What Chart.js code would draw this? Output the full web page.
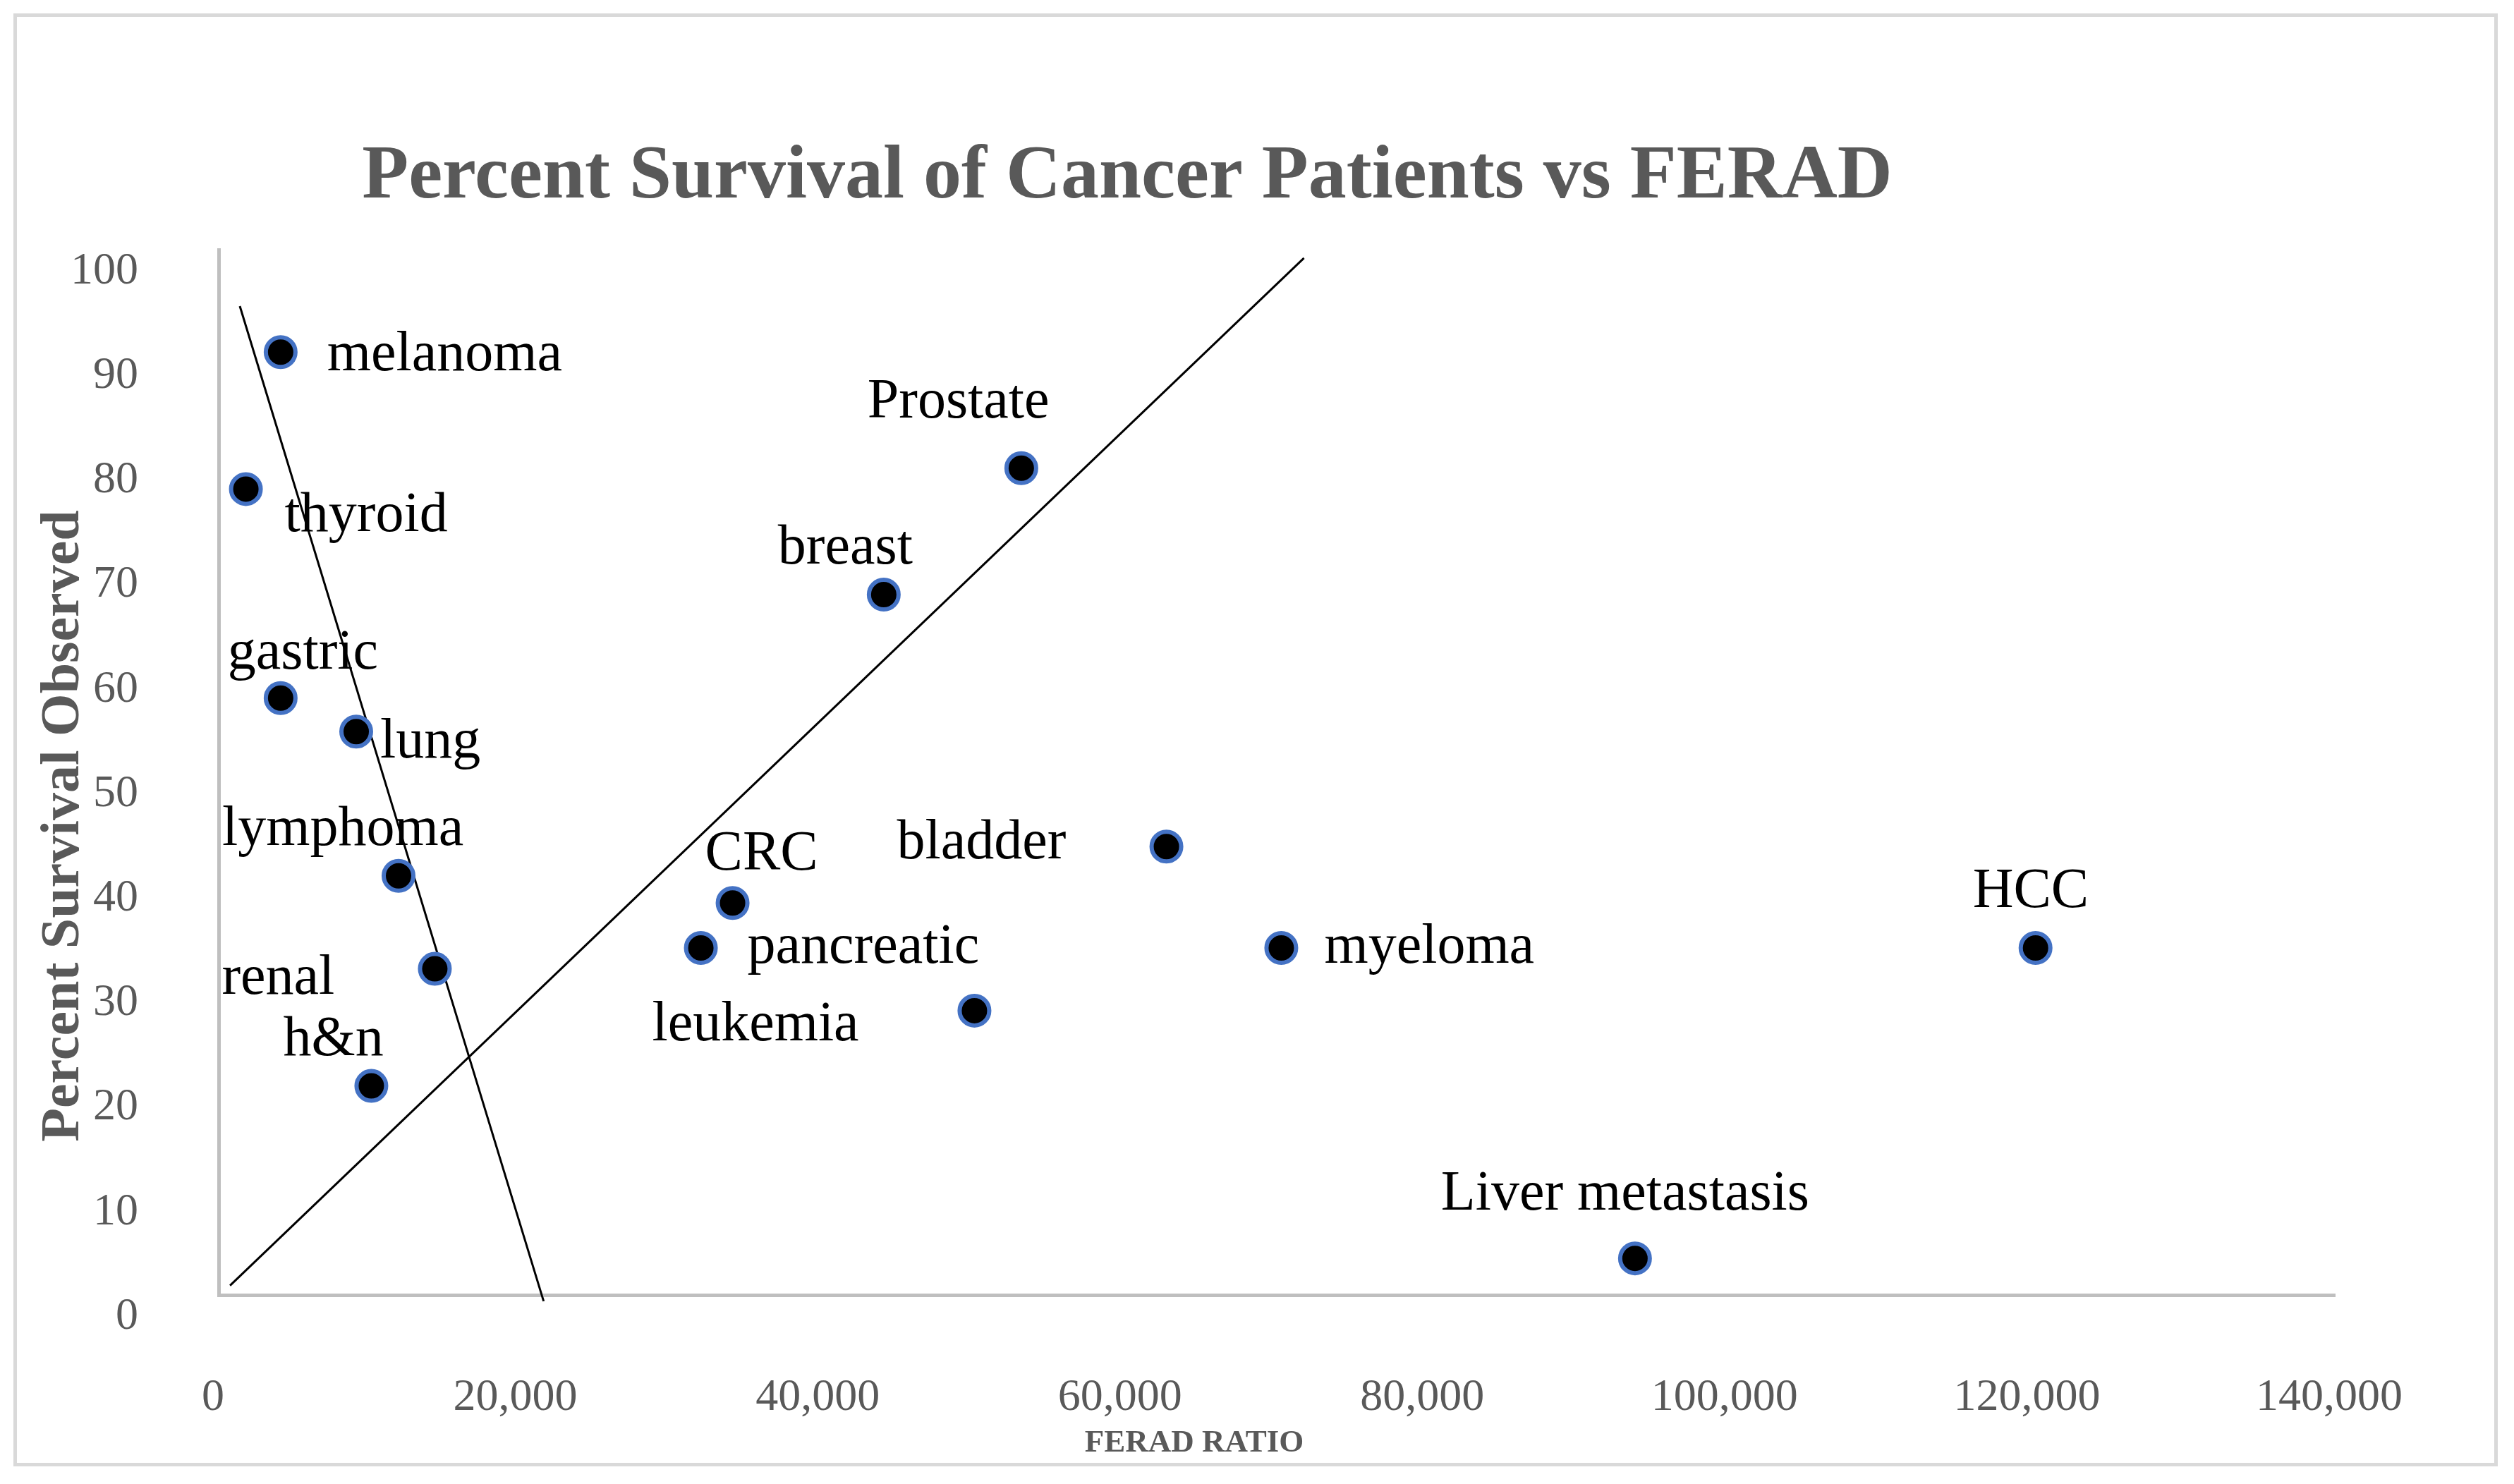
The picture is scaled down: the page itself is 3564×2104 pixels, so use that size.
<!DOCTYPE html>
<html>
<head>
<meta charset="utf-8">
<script src="https://cdn.jsdelivr.net/npm/chart.js@4.4.1/dist/chart.umd.min.js"></script>
<style>
  html, body { margin: 0; padding: 0; background: #fff; }
  #frame { position: absolute; left: 19px; top: 19px; width: 3512px; height: 2050px; border: 5px solid #d9d9d9; }
  #wrap  { position: absolute; left: 0; top: 0; width: 3564px; height: 2104px; }
</style>
</head>
<body>
<div id="frame"></div>
<div id="wrap"><canvas id="chart"></canvas></div>
<script>
// data
const cancerTypes = ['melanoma', 'thyroid', 'gastric', 'lung', 'lymphoma', 'renal', 'h&n',
  'CRC', 'pancreatic', 'breast', 'Prostate', 'leukemia', 'bladder', 'myeloma', 'HCC', 'Liver metastasis'];
const feradRatio  = [4100, 1800, 4100, 9100, 11900, 14300, 10100,
  34000, 31900, 44000, 53100, 50000, 62700, 70300, 120200, 93700];
const survivalPct = [90.2, 77.1, 57.1, 53.9, 40.1, 31.2, 20.0,
  37.5, 33.2, 67.0, 79.1, 27.2, 42.9, 33.2, 33.2, 3.5];

// the two hand drawn trend lines
const fallLineX = [1400, 21500];
const fallLineY = [94.6, -0.6];
const riseLineX = [750, 71800];
const riseLineY = [0.9, 99.2];

const xTicks = [0, 20000, 40000, 60000, 80000, 100000, 120000, 140000];
const yTicks = [0, 10, 20, 30, 40, 50, 60, 70, 80, 90, 100];

const chartTitle = 'Percent Survival of Cancer Patients vs FERAD';
const xTitle = 'FERAD RATIO';
const yTitle = 'Percent Survival Observed';

// label placement next to each point (px, left edge / middle)
const labelOffsets = [
  [66, 5], [55, 39], [-75, -63], [34, 16], [-250, -65], [-302, 14], [-125, -65],
  [-39, -68], [66, 0], [-150, -65], [-218, -93], [-457, 21], [-382, -4], [61, 0], [-89, -79], [-275, -90]
];

const FONT = "'Palatino Linotype', 'Book Antiqua', Palatino, 'Liberation Serif', 'DejaVu Serif', serif";
const GREY = '#595959';

const pointLabels = {
  id: 'pointLabels',
  afterDatasetsDraw(chart) {
    const meta = chart.getDatasetMeta(0);
    const c = chart.ctx;
    c.save();
    c.font = `80px ${FONT}`;
    c.fillStyle = '#000';
    c.textAlign = 'left';
    c.textBaseline = 'middle';
    meta.data.forEach((pt, i) => {
      const [dx, dy] = labelOffsets[i];
      c.fillText(cancerTypes[i], pt.x + dx, pt.y + dy);
    });
    c.restore();
  }
};

const titles = {
  id: 'titles',
  afterDraw(chart) {
    const c = chart.ctx;
    c.save();
    c.fillStyle = GREY;
    c.textAlign = 'center';
    c.textBaseline = 'middle';
    c.font = `bold 108px ${FONT}`;
    c.fillText(chartTitle, 1598, 252);
    c.font = `bold 45px ${FONT}`;
    c.fillText(xTitle, 1693, 2046);
    c.translate(91, 1171);
    c.rotate(-Math.PI / 2);
    c.font = `bold 78px ${FONT}`;
    c.fillText(yTitle, 0, 0);
    c.restore();
  }
};

const ctx = document.getElementById('chart');

new Chart(ctx, {
  type: 'scatter',
  plugins: [pointLabels, titles],
  data: {
    datasets: [
      {
        label: 'Cancer types',
        data: feradRatio.map((x, i) => ({ x, y: survivalPct[i] })),
        backgroundColor: '#000',
        borderColor: '#4472c4',
        borderWidth: 6,
        pointRadius: 21,
        pointHoverRadius: 21
      },
      {
        label: 'fall',
        data: fallLineX.map((x, i) => ({ x, y: fallLineY[i] })),
        showLine: true,
        borderColor: '#000',
        borderWidth: 3,
        pointRadius: 0,
        clip: false
      },
      {
        label: 'rise',
        data: riseLineX.map((x, i) => ({ x, y: riseLineY[i] })),
        showLine: true,
        borderColor: '#000',
        borderWidth: 3,
        pointRadius: 0,
        clip: false
      }
    ]
  },
  options: {
    responsive: true,
    maintainAspectRatio: false,
    animation: false,
    layout: { padding: { left: 0, top: 354, right: 254, bottom: 0 } },
    plugins: {
      legend: { display: false },
      tooltip: { enabled: false },
      title: { display: false }
    },
    scales: {
      x: {
        type: 'linear',
        min: 0, max: 140000,
        afterBuildTicks: s => { s.ticks = xTicks.map(v => ({ value: v })); },
        afterFit: s => { s.height = 268; },
        grid: { display: false },
        border: { display: true, color: '#bfbfbf', width: 5 },
        ticks: {
          color: GREY,
          font: { size: 64, family: FONT },
          padding: 100,
          labelOffset: -8,
          maxRotation: 0,
          autoSkip: false,
          callback: v => v.toLocaleString('en-US')
        }
      },
      y: {
        type: 'linear',
        min: 0, max: 100,
        afterBuildTicks: s => { s.ticks = yTicks.map(v => ({ value: v })); },
        afterFit: s => { s.width = 310; },
        grid: { display: false },
        border: { display: true, color: '#bfbfbf', width: 5 },
        ticks: {
          color: GREY,
          font: { size: 64, family: FONT },
          padding: 106,
          labelOffset: 31,
          autoSkip: false
        }
      }
    }
  }
});
</script>
</body>
</html>
